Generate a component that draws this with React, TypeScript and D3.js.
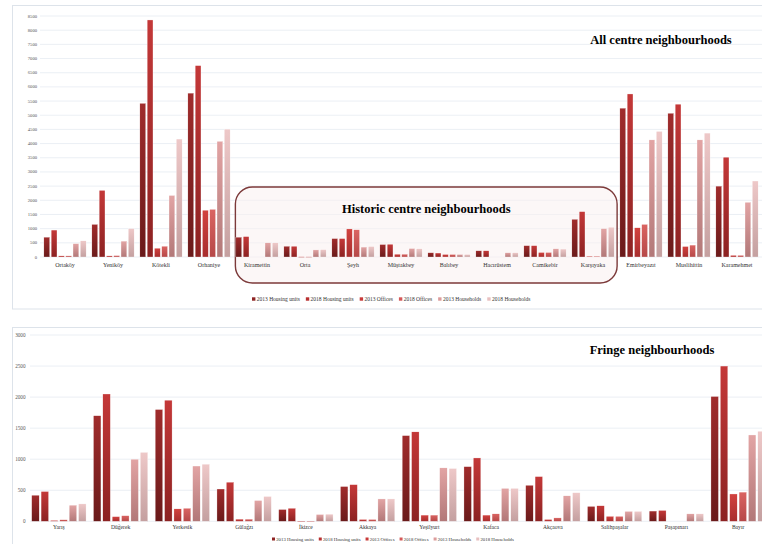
import React from 'react';
import * as d3 from 'd3';

const seriesNames = ['2013 Housing units', '2018 Housing units', '2013 Offices', '2018 Offices', '2013 Households', '2018 Households'];
const seriesTop = ['#a02c2c', '#c43838', '#d2423f', '#da6462', '#e2a4a4', '#eec8c8'];
const seriesBottom = ['#6a1a1a', '#8c2222', '#a82e2e', '#b64848', '#b27878', '#c4a0a0'];
const legendColors = ['#8e2424', '#b83030', '#c83a3a', '#d45858', '#dc9c9c', '#e8c0c0'];

// All centre neighbourhoods
const centreCategories = ['Ortaköy', 'Yeniköy', 'Kötekli', 'Orhaniye', 'Kiramettin', 'Orta', 'Şeyh', 'Müştakbey', 'Balıbey', 'Hacırüstem', 'Camikebir', 'Karşıyaka', 'Emirbeyazıt', 'Muslihittin', 'Karamehmet'];
const centreHousing2013 = [700, 1150, 5420, 5780, 700, 380, 650, 440, 150, 220, 400, 1330, 5250, 5070, 2500];
const centreHousing2018 = [950, 2350, 8360, 6750, 720, 380, 650, 450, 140, 220, 400, 1600, 5750, 5390, 3520];
const centreOffices2013 = [40, 40, 310, 1650, 0, 8, 990, 100, 90, 0, 160, 30, 1030, 370, 60];
const centreOffices2018 = [40, 50, 380, 1680, 0, 8, 960, 100, 90, 0, 160, 30, 1150, 420, 60];
const centreHouseholds2013 = [470, 560, 2170, 4080, 500, 250, 350, 300, 90, 150, 290, 1000, 4130, 4130, 1930];
const centreHouseholds2018 = [570, 1000, 4160, 4510, 500, 260, 370, 290, 90, 150, 280, 1050, 4430, 4370, 2680];
const centreTicks = d3.range(0, 8501, 500);
const historicCategories = ['Kiramettin', 'Karşıyaka'];

// Fringe neighbourhoods
const fringeCategories = ['Yarış', 'Düğerek', 'Yerkesik', 'Gülağzı', 'İkizce', 'Akkaya', 'Yeşilyurt', 'Kafaca', 'Akçaova', 'Salihpaşalar', 'Paşapınarı', 'Bayır'];
const fringeHousing2013 = [420, 1700, 1800, 520, 190, 560, 1380, 880, 580, 240, 165, 2010];
const fringeHousing2018 = [480, 2050, 1950, 630, 210, 590, 1440, 1020, 720, 250, 175, 2500];
const fringeOffices2013 = [15, 75, 200, 35, 4, 30, 100, 100, 30, 80, 0, 440];
const fringeOffices2018 = [25, 90, 210, 35, 4, 30, 100, 120, 55, 80, 0, 470];
const fringeHouseholds2013 = [260, 1000, 890, 335, 110, 360, 860, 530, 410, 160, 120, 1390];
const fringeHouseholds2018 = [280, 1110, 920, 400, 115, 360, 850, 530, 460, 160, 120, 1450];
const fringeTicks = d3.range(0, 3001, 500);

const SERIF = "'Liberation Serif', 'Times New Roman', serif";

let canvasCtx: CanvasRenderingContext2D | null = null;
function measure(text: string, size: number): number {
  if (!canvasCtx) canvasCtx = document.createElement('canvas').getContext('2d');
  if (!canvasCtx) return text.length * size * 0.5;
  canvasCtx.font = `${size}px ${SERIF}`;
  return canvasCtx.measureText(text).width;
}

type ChartProps = {
  id: string;
  categories: string[];
  series: number[][];
  maxY: number;
  ticks: number[];
  xRange: [number, number];
  yRange: [number, number];
  gridX0: number;
  tickX: number;
  tickSize: number;
  catSize: number;
  catY: number;
  legendX: number;
  legendY: number;
  legendSize: number;
  legendSq: number;
  legendGap: number;
  title: string;
  titleX: number;
  titleY: number;
  overlay?: (x0: d3.ScaleBand<string>) => React.ReactNode;
};

function BarChart(p: ChartProps) {
  const x0 = d3.scaleBand<string>().domain(p.categories).range(p.xRange).paddingInner(0.12).paddingOuter(0.06);
  const x1 = d3.scaleBand<number>().domain(d3.range(p.series.length)).range([0, x0.bandwidth()]).paddingInner(0.2);
  const y = d3.scaleLinear().domain([0, p.maxY]).range(p.yRange);

  let lx = p.legendX;
  const legendItems = seriesNames.map((name, i) => {
    const item = { name, x: lx, color: legendColors[i] };
    lx += p.legendSq + p.legendSq * 0.4 + measure(name, p.legendSize) + p.legendGap;
    return item;
  });

  return (
    <g>
      {p.ticks.map((t) => (
        <g key={t}>
          <line x1={p.gridX0} x2={770} y1={y(t)} y2={y(t)} stroke="#e6ebf1" strokeWidth={0.8} />
          <text x={p.tickX} y={y(t)} dy="0.33em" textAnchor="end" fontSize={p.tickSize} fill="#555" fontFamily={SERIF}>{t}</text>
        </g>
      ))}
      {p.overlay ? p.overlay(x0) : null}
      {p.categories.map((c, ci) => (
        <g key={c} transform={`translate(${x0(c)},0)`}>
          {p.series.map((s, si) => {
            const v = s[ci];
            if (v <= 0) return null;
            const top = y(v);
            return (
              <rect key={si} x={x1(si)} y={top} width={x1.bandwidth()} height={Math.max(0.6, y(0) - top)}
                fill={`url(#${p.id}-g${si})`} stroke="#ffffff" strokeWidth={0.3} />
            );
          })}
          <text x={x0.bandwidth() / 2} y={p.catY} textAnchor="middle" fontSize={p.catSize} fill="#333" fontFamily={SERIF}>{c}</text>
        </g>
      ))}
      <text x={p.titleX} y={p.titleY} textAnchor="middle" fontSize={12.5} fontWeight="bold" fill="#000" fontFamily={SERIF}>{p.title}</text>
      {legendItems.map((it) => (
        <g key={it.name}>
          <rect x={it.x} y={p.legendY - p.legendSq / 2} width={p.legendSq} height={p.legendSq} fill={it.color} />
          <text x={it.x + p.legendSq * 1.4} y={p.legendY} dy="0.33em" fontSize={p.legendSize} fill="#333" fontFamily={SERIF}>{it.name}</text>
        </g>
      ))}
    </g>
  );
}

export default function App() {
  const centreSeries = [centreHousing2013, centreHousing2018, centreOffices2013, centreOffices2018, centreHouseholds2013, centreHouseholds2018];
  const fringeSeries = [fringeHousing2013, fringeHousing2018, fringeOffices2013, fringeOffices2018, fringeHouseholds2013, fringeHouseholds2018];

  const gradients = (id: string) =>
    seriesNames.map((_, i) => (
      <linearGradient key={`${id}-${i}`} id={`${id}-g${i}`} x1="0" y1="0" x2="0" y2="1">
        <stop offset="0%" stopColor={seriesTop[i]} />
        <stop offset="100%" stopColor={seriesBottom[i]} />
      </linearGradient>
    ));

  return (
    <svg width={762} height={544} style={{ position: 'absolute', left: 0, top: 0, background: '#fff' }}>
      <defs>
        {gradients('top')}
        {gradients('bot')}
      </defs>
      <rect x={0} y={0} width={762} height={544} fill="#fff" />
      <rect x={12.5} y={5.5} width={760} height={303.5} fill="#fff" stroke="#dde3ea" strokeWidth={1} />
      <rect x={12.5} y={327.5} width={760} height={230} fill="#fff" stroke="#dde3ea" strokeWidth={1} />

      <BarChart
        id="top"
        categories={centreCategories}
        series={centreSeries}
        maxY={8500}
        ticks={centreTicks}
        xRange={[41, 761]}
        yRange={[257, 16]}
        gridX0={40}
        tickX={37}
        tickSize={4.6}
        catSize={6}
        catY={267}
        legendX={252}
        legendY={299}
        legendSize={5.5}
        legendSq={3.4}
        legendGap={6}
        title="All centre neighbourhoods"
        titleX={661}
        titleY={44}
        overlay={(x0) => {
          const left = (x0(historicCategories[0]) as number) - 0.5;
          const right = (x0(historicCategories[1]) as number) + x0.bandwidth() + 3;
          return (
            <g>
              <rect x={left} y={187} width={right - left} height={96} rx={17} ry={17}
                fill="#f9f0f0" fillOpacity={0.55} stroke="#7c3a3a" strokeWidth={1.4} />
              <text x={(left + right) / 2} y={213} textAnchor="middle" fontSize={12.5} fontWeight="bold" fill="#000" fontFamily={SERIF}>
                Historic centre neighbourhoods
              </text>
            </g>
          );
        }}
      />

      <BarChart
        id="bot"
        categories={fringeCategories}
        series={fringeSeries}
        maxY={3000}
        ticks={fringeTicks}
        xRange={[28, 769]}
        yRange={[521.3, 335]}
        gridX0={30}
        tickX={25.5}
        tickSize={5.2}
        catSize={5.6}
        catY={529}
        legendX={272}
        legendY={539}
        legendSize={4.8}
        legendSq={3}
        legendGap={5}
        title="Fringe neighbourhoods"
        titleX={652}
        titleY={354}
      />
    </svg>
  );
}
